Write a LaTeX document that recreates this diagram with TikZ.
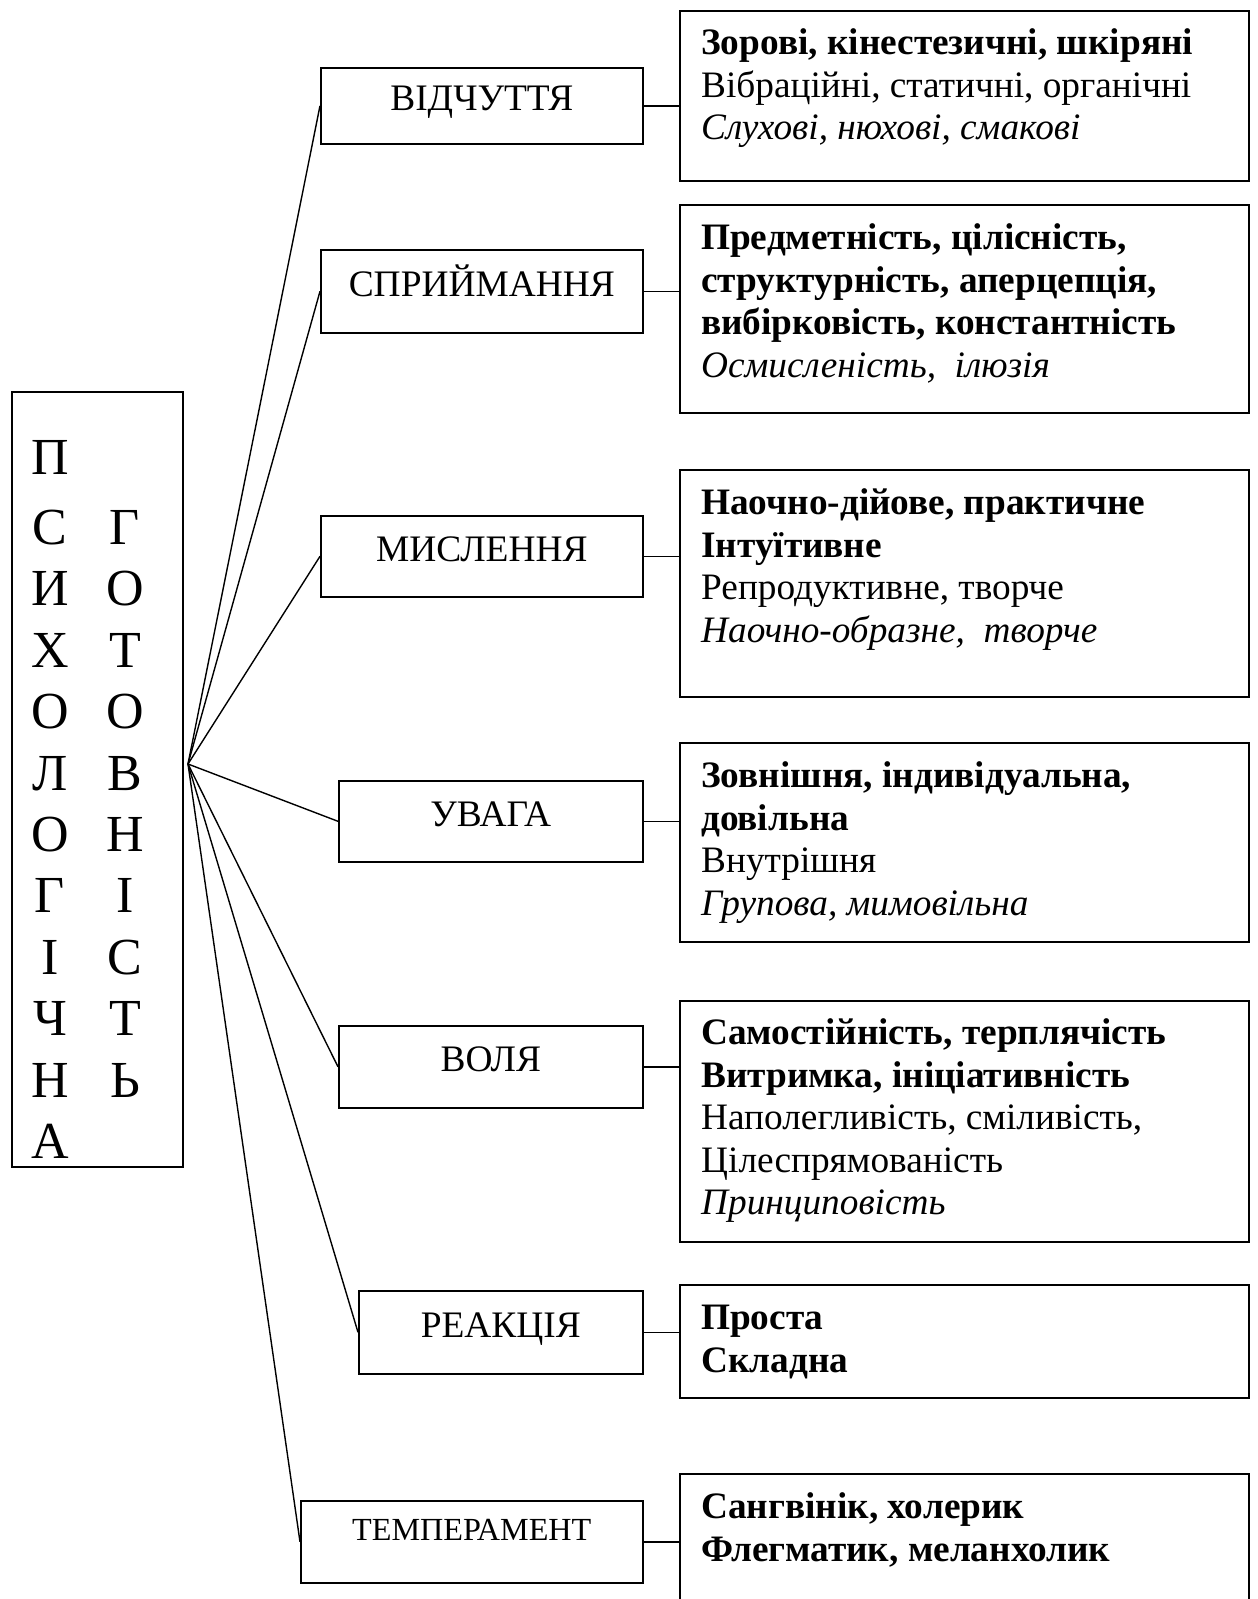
\documentclass[tikz,border=0pt]{standalone}
\usepackage{fontspec}
\setmainfont{Liberation Serif}
\usepackage{tikz}
\newcommand{\infoSize}[0]{\fontsize{37.3}{42.5}\selectfont}
\newcommand{\labelSize}[0]{\fontsize{37.4}{42}\selectfont}

\begin{document}
\begin{tikzpicture}[x=1pt, y=-1pt]
  \tikzset{
    midbox/.style={draw, line width=1.6pt, anchor=north west, inner sep=0pt,
      text height=26pt, text depth=16pt, font=\labelSize},
    infobox/.style={draw, line width=2pt, anchor=north west, minimum width=569pt},
    infotext/.style={anchor=north west, align=left, inner sep=0pt, font=\infoSize},
    letter/.style={anchor=base, inner sep=0pt, font=\fontsize{52}{52}\selectfont},
    fanline/.style={line width=1.4pt},
    link/.style={line width=1.6pt}
  }
  \useasboundingbox (0,0) rectangle (1258,1599);
  \clip (0,0) rectangle (1258,1599);

  \node[draw, line width=1.6pt, anchor=north west, minimum width=171pt, minimum height=775pt] (psy) at (11,391) {};
  \foreach \ch/\yy [count=\i] in {П/474, С/544, И/605, Х/667, О/728, Л/790, О/851, Г/912, І/974, Ч/1035, Н/1097, А/1158}
    \node[letter] (left\i) at (50,\yy) {\ch};
  \foreach \ch/\yy [count=\i] in {Г/544, О/605, Т/667, О/728, В/790, Н/851, І/912, С/974, Т/1035, Ь/1097}
    \node[letter] (right\i) at (125,\yy) {\ch};
  \coordinate (hub) at (188,764);

  \node[midbox, minimum width=322pt, minimum height=76pt] (vidch) at (320,67) {ВІДЧУТТЯ};
  \node[midbox, minimum width=322pt, minimum height=83pt] (sprym) at (320,249) {СПРИЙМАННЯ};
  \node[midbox, minimum width=322pt, minimum height=81pt] (mysl) at (320,515) {МИСЛЕННЯ};
  \node[midbox, minimum width=304pt, minimum height=81pt] (uvaga) at (338,780) {УВАГА};
  \node[midbox, minimum width=304pt, minimum height=82pt] (volia) at (338,1025) {ВОЛЯ};
  \node[midbox, minimum width=284pt, minimum height=83pt] (reak) at (358,1290) {РЕАКЦІЯ};
  \node[midbox, minimum width=342pt, minimum height=82pt, text height=20pt, text depth=22pt,
    font=\fontsize{32.2}{36}\selectfont] (temp) at (300,1500) {ТЕМПЕРАМЕНТ};

  \node[infobox, minimum height=170pt] (vidch-info) at (679,10) {};
  \node[infotext] (vidch-text) at ([xshift=22pt,yshift=-15pt]vidch-info.north west)
    {\strut\textbf{Зорові, кінестезичні, шкіряні}\\Вібраційні, статичні, органічні\\\textit{Слухові, нюхові, смакові}};
  \node[infobox, minimum height=208pt] (sprym-info) at (679,204) {};
  \node[infotext] (sprym-text) at ([xshift=22pt,yshift=-16pt]sprym-info.north west)
    {\strut\textbf{Предметність, цілісність,}\\\textbf{структурність, аперцепція,}\\\textbf{вибірковість, константність}\\\textit{Осмисленість, \ ілюзія}};
  \node[infobox, minimum height=227pt] (mysl-info) at (679,469) {};
  \node[infotext] (mysl-text) at ([xshift=22pt,yshift=-16pt]mysl-info.north west)
    {\strut\textbf{Наочно-дійове, практичне}\\\textbf{Інтуїтивне}\\Репродуктивне, творче\\\textit{Наочно-образне, \ творче}};
  \node[infobox, minimum height=199pt] (uvaga-info) at (679,742) {};
  \node[infotext] (uvaga-text) at ([xshift=22pt,yshift=-16pt]uvaga-info.north west)
    {\strut\textbf{Зовнішня, індивідуальна,}\\\textbf{довільна}\\Внутрішня\\\textit{Групова, мимовільна}};
  \node[infobox, minimum height=241pt] (volia-info) at (679,1000) {};
  \node[infotext] (volia-text) at ([xshift=22pt,yshift=-15pt]volia-info.north west)
    {\strut\textbf{Самостійність, терплячість}\\\textbf{Витримка, ініціативність}\\Наполегливість, сміливість,\\Цілеспрямованість\\\textit{Принциповість}};
  \node[infobox, minimum height=113pt] (reak-info) at (679,1284) {};
  \node[infotext] (reak-text) at ([xshift=22pt,yshift=-16pt]reak-info.north west)
    {\strut\textbf{Проста}\\\textbf{Складна}};
  \node[infobox, minimum height=200pt] (temp-info) at (679,1473) {};
  \node[infotext] (temp-text) at ([xshift=22pt,yshift=-16pt]temp-info.north west)
    {\strut\textbf{Сангвінік, холерик}\\\textbf{Флегматик, меланхолик}};

  \foreach \n in {vidch,sprym,mysl,uvaga,volia,reak,temp} {
    \draw[fanline] (hub) -- (\n.west);
    \draw[link] (\n.east) -- (\n.east -| \n-info.west);
  }
\end{tikzpicture}
\end{document}
